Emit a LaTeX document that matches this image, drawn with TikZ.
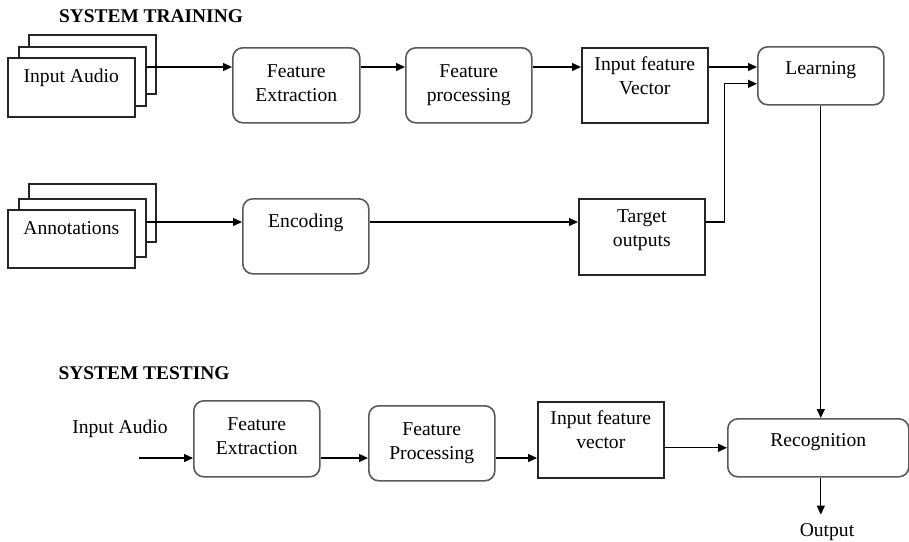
\documentclass[tikz,border=0pt]{standalone}
\usepackage{fontspec}
\setmainfont{Liberation Serif}
\usetikzlibrary{arrows.meta,shadows}

\begin{document}
\begin{tikzpicture}[x=0.5pt,y=-0.5pt,font=\fontsize{9.8}{12}\selectfont,
        plainbox/.style={draw=black!85,line width=0.8pt,fill=white,align=center,
            inner xsep=2pt,inner ysep=0pt,minimum width=63pt,anchor=north west},
        roundbox/.style={plainbox,draw=black!65,rounded corners=5pt},
        stackbox/.style={plainbox,
            copy shadow={shadow xshift=10.5pt,shadow yshift=#1,draw=black!85,line width=0.8pt,fill=white},
            copy shadow={shadow xshift=5.5pt,shadow yshift=5.5pt,draw=black!85,line width=0.8pt,fill=white}},
        textpos/.style 2 args={text height=#1,text depth=#2},
        heading/.style={font=\fontsize{9.7}{12}\selectfont\bfseries,anchor=base},
        arr/.style={-{Triangle[length=4.5pt,width=4pt]},line width=0.65pt}]
    \useasboundingbox (0,0) rectangle (909,541);

    \node[heading] (train) at (151,22) {SYSTEM TRAINING};
    \node[stackbox=11.5pt,textpos={12.5pt}{17pt},minimum width=63.5pt] (inA) at (7,57) {Input Audio};
    \node[roundbox,textpos={27pt}{10.5pt},minimum width=63.5pt] (fext) at (232,47) {Feature\\Extraction};
    \node[roundbox,textpos={27pt}{10.5pt}] (fproc) at (405,47) {Feature\\processing};
    \node[plainbox,textpos={23.5pt}{14pt}] (ifv) at (581,47) {Input feature\\Vector};
    \node[roundbox,textpos={14pt}{15pt}] (learn) at (757,46) {Learning};
    \node[stackbox=13pt,textpos={12.5pt}{16.5pt},minimum width=63.5pt] (ann) at (7,209) {Annotations};
    \node[roundbox,textpos={14.5pt}{23pt}] (enc) at (242,198) {Encoding};
    \node[plainbox,textpos={24pt}{14pt}] (tgt) at (578,198) {Target\\outputs};

    \node[heading] (test) at (144,379) {SYSTEM TESTING};
    \node[anchor=base] (tin) at (120,433) {Input Audio};
    \node[roundbox,textpos={27pt}{11pt}] (ftx) at (193,400) {Feature\\Extraction};
    \node[roundbox,textpos={27pt}{10.5pt}] (ftp) at (368,405) {Feature\\Processing};
    \node[plainbox,textpos={23.5pt}{14.5pt}] (tfv) at (537,401) {Input feature\\vector};
    \node[roundbox,textpos={14pt}{15pt},minimum width=90.5pt] (recog) at (727,418) {Recognition};
    \node[anchor=base,inner sep=4pt] (out) at (827,536) {Output};

    \coordinate (inAout) at ([shift={(10,10)}]inA.north east);
    \coordinate (annout) at ([shift={(10,13)}]ann.north east);
    \coordinate (tin0) at (139,458);
    \draw[arr] (inAout) -- (inAout -| fext.west);
    \draw[arr] (inAout -| fext.east) -- (inAout -| fproc.west);
    \draw[arr] (inAout -| fproc.east) -- (inAout -| ifv.west);
    \draw[arr] (inAout -| ifv.east) -- (inAout -| learn.west);
    \draw[arr] (annout) -- (annout -| enc.west);
    \draw[arr] (annout -| enc.east) -- (annout -| tgt.west);
    \draw[arr] (annout -| tgt.east) -- ++(19,0) |- ([yshift=-4pt]learn.west);
    \draw[arr] (learn.south) -- (learn.south |- recog.north);
    \draw[arr] (tin0) -- (tin0 -| ftx.west);
    \draw[arr] (tin0 -| ftx.east) -- (tin0 -| ftp.west);
    \draw[arr] (tin0 -| ftp.east) -- (tin0 -| tfv.west);
    \draw[arr] (tfv.east |- recog.west) -- (recog.west);
    \draw[arr] (learn.south |- recog.south) -- (learn.south |- out.north);
\end{tikzpicture}
\end{document}
